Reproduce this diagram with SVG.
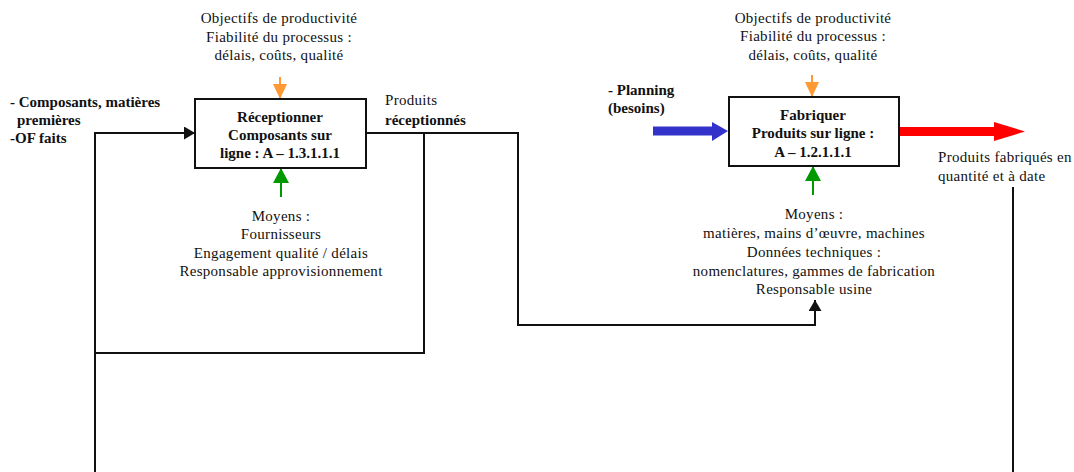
<svg xmlns="http://www.w3.org/2000/svg" width="1074" height="472" viewBox="0 0 1074 472">
  <style>
    text { font-family: "Liberation Serif", "Times New Roman", serif; font-size: 15px; fill: #111; letter-spacing: 0.3px; }
    .b { font-weight: bold; letter-spacing: 0; }
    .c { text-anchor: middle; }
    .box { fill: #fff; stroke: #111; stroke-width: 2; }
    .ln { fill: none; stroke: #111; stroke-width: 2; }
    .or { fill: none; stroke: #FF9933; stroke-width: 2; }
    .gr { fill: none; stroke: #009900; stroke-width: 2; }
  </style>
  <defs>
    <marker id="ahBlack" markerUnits="userSpaceOnUse" markerWidth="12" markerHeight="14" refX="11" refY="6.5" orient="auto">
      <path d="M0,0 L11,6.5 L0,13 z" fill="#111"/>
    </marker>
    <marker id="ahOrange" markerUnits="userSpaceOnUse" markerWidth="16" markerHeight="16" refX="15" refY="7" orient="auto">
      <path d="M0,0 L15,7 L0,14 z" fill="#FF9933"/>
    </marker>
    <marker id="ahGreen" markerUnits="userSpaceOnUse" markerWidth="17" markerHeight="17" refX="15" refY="8" orient="auto">
      <path d="M0,0 L15,8 L0,16 z" fill="#009900"/>
    </marker>
  </defs>
  <rect width="1074" height="472" fill="#fff"/>

  <g id="connectors">
    <path class="ln" d="M95,472 V133 H195" marker-end="url(#ahBlack)"/>
    <path class="ln" d="M95,353 H424 V133"/>
    <path class="ln" d="M366,133 H518 V325 H815 V300" marker-end="url(#ahBlack)"/>
    <path class="ln" d="M1013,187 V472"/>
    <path class="or" d="M280,77 V99" marker-end="url(#ahOrange)"/>
    <path class="gr" d="M281,197 V168" marker-end="url(#ahGreen)"/>
    <path class="or" d="M812,75 V97" marker-end="url(#ahOrange)"/>
    <path class="gr" d="M813,195 V166" marker-end="url(#ahGreen)"/>
    <polygon fill="#3333CC" points="653,126.5 712,126.5 712,122 728,131 712,141 712,135.5 653,135.5"/>
    <polygon fill="#FF0000" points="898,127 994,127 994,122 1025,131.5 994,141 994,136 898,136"/>
  </g>

  <g id="node-receptionner">
    <rect class="box" x="195" y="99" width="171" height="69"/>
    <text class="b c" x="280" y="122">Réceptionner</text>
    <text class="b c" x="280" y="140">Composants sur</text>
    <text class="b c" x="280" y="158">ligne : A – 1.3.1.1.1</text>
  </g>

  <g id="node-fabriquer">
    <rect class="box" x="729" y="97" width="170" height="69"/>
    <text class="b c" x="813" y="120">Fabriquer</text>
    <text class="b c" x="813" y="138">Produits sur ligne :</text>
    <text class="b c" x="813" y="157">A – 1.2.1.1.1</text>
  </g>

  <g id="controls-1">
    <text class="c" x="279" y="23">Objectifs de productivité</text>
    <text class="c" x="279" y="42">Fiabilité du processus :</text>
    <text class="c" x="279" y="60">délais, coûts, qualité</text>
  </g>
  <g id="controls-2">
    <text class="c" x="813" y="23">Objectifs de productivité</text>
    <text class="c" x="813" y="41">Fiabilité du processus :</text>
    <text class="c" x="813" y="60">délais, coûts, qualité</text>
  </g>

  <g id="inputs-1">
    <text class="b" x="10" y="107">- Composants, matières</text>
    <text class="b" x="17" y="125">premières</text>
    <text class="b" x="10" y="143">-OF faits</text>
  </g>

  <g id="output-1">
    <text x="385" y="105">Produits</text>
    <text class="b" x="385" y="125">réceptionnés</text>
  </g>

  <g id="inputs-2">
    <text class="b" x="608" y="95">- Planning</text>
    <text class="b" x="608" y="113">(besoins)</text>
  </g>

  <g id="output-2">
    <text x="938" y="162">Produits fabriqués en</text>
    <text x="938" y="181">quantité et à date</text>
  </g>

  <g id="mechanisms-1">
    <text class="c" x="281" y="221">Moyens :</text>
    <text class="c" x="281" y="239">Fournisseurs</text>
    <text class="c" x="281" y="258">Engagement  qualité / délais</text>
    <text class="c" x="281" y="276">Responsable approvisionnement</text>
  </g>

  <g id="mechanisms-2">
    <text class="c" x="814" y="219">Moyens :</text>
    <text class="c" x="814" y="238">matières, mains d’œuvre, machines</text>
    <text class="c" x="814" y="257">Données techniques :</text>
    <text class="c" x="814" y="276">nomenclatures, gammes de fabrication</text>
    <text class="c" x="814" y="294">Responsable usine</text>
  </g>
</svg>
